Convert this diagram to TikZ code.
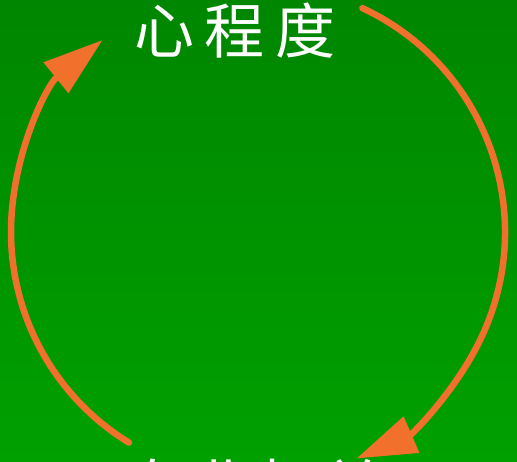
\documentclass[tikz,border=0pt]{standalone}
\usepackage{fontspec}
\newfontfamily\cjk{Noto Sans CJK SC}
\usetikzlibrary{arrows.meta}
\definecolor{bgtop}{RGB}{0,134,0}
\definecolor{bgbot}{RGB}{0,160,0}
\definecolor{arroworange}{RGB}{240,112,44}
\tikzset{
  cyclearrow/.style={draw=arroworange, line width=6.5pt, line cap=round,
    -{Triangle[length=60pt,width=38pt]}},
  label/.style={text=white, font=\cjk\fontsize{60pt}{60pt}\selectfont, inner sep=0pt}
}
\begin{document}
\begin{tikzpicture}[x=1pt,y=1pt]
\useasboundingbox (0,0) rectangle (517,461);
\clip (0,0) rectangle (517,461);
\shade[top color=bgtop, bottom color=bgbot] (0,0) rectangle (517,461);
\coordinate (c) at (258,229);
\node[label] (top) at (235,430) {心\hspace{11pt}程\hspace{11pt}度};
\node[label] (bottom) at (254,-26) {专\hspace{6pt}业\hspace{6pt}相\hspace{6pt}关};
\draw[cyclearrow] ([shift={(65:247)}]c) arc[start angle=65, end angle=-66.5, radius=247];
\draw[cyclearrow] ([shift={(238.5:247)}]c) arc[start angle=238.5, end angle=129, radius=247];
\end{tikzpicture}
\end{document}
